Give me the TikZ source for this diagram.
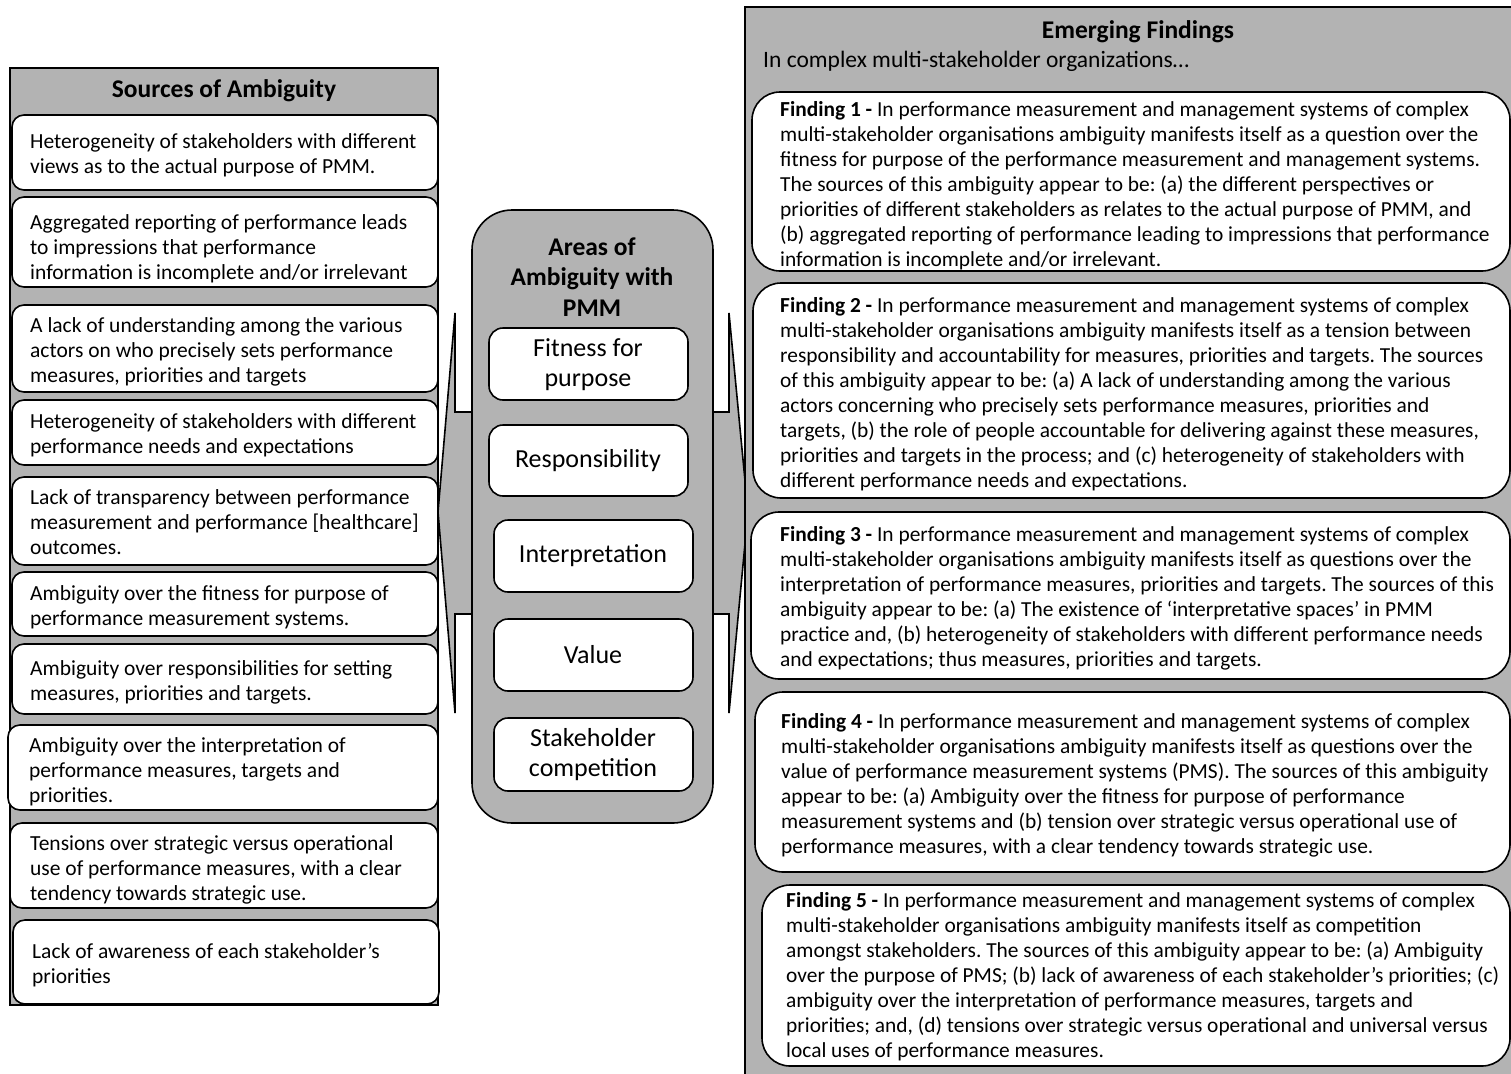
\documentclass[tikz,border=0pt]{standalone}
\usepackage{fontspec}
\setmainfont{Carlito}
\frenchspacing
\definecolor{panelgray}{RGB}{179,179,179}
\newcommand\ml[1]{\begin{tabular}[t]{@{}l@{}}#1\end{tabular}}
\tikzset{
  panel/.style={draw=black, fill=panelgray, line width=1.6pt},
  srcbox/.style={draw=black, fill=white, line width=1.6pt, rounded corners=12pt},
  areabox/.style={draw=black, fill=white, line width=1.6pt, rounded corners=14pt},
  findbox/.style={draw=black, fill=white, line width=1.6pt, rounded corners=28pt},
  srctext/.style={anchor=base west, inner sep=0pt, font=\fontsize{21.5}{25}\selectfont},
  findtext/.style={anchor=base west, inner sep=0pt, font=\fontsize{21.4}{25}\selectfont},
  areatext/.style={inner sep=0pt, align=center, font=\fontsize{26}{30}\selectfont},
  titletext/.style={inner sep=0pt, align=center, font=\bfseries\fontsize{25.5}{30.5}\selectfont},
}
\begin{document}
\begin{tikzpicture}[x=1pt, y=-1pt]
\useasboundingbox (0,0) rectangle (1511,1073);
\fill[white] (0,0) rectangle (1511,1073);

% ---------- left panel ----------
\path[panel] (10,68) rectangle (438,1005);
\node[titletext] (srctitle) at (224,91) {Sources of Ambiguity};
\path[srcbox] (12,115) rectangle (438,190);
\path[srcbox] (12,197) rectangle (438,287);
\path[srcbox] (12,305) rectangle (438,392);
\path[srcbox] (12,400) rectangle (438,465);
\path[srcbox] (12,477) rectangle (438,565);
\path[srcbox] (12,572) rectangle (438,636);
\path[srcbox] (12,644) rectangle (438,714);
\path[srcbox] (8,725) rectangle (438,810);
\path[srcbox] (10,823) rectangle (438,908);
\path[srcbox] (13,920) rectangle (439,1004);
\node[srctext] (s1) at (30,148) {\ml{Heterogeneity of stakeholders with different\\views as to the actual purpose of PMM.}};
\node[srctext] (s2) at (30,229) {\ml{Aggregated reporting of performance leads\\to impressions that performance\\information is incomplete and/or irrelevant}};
\node[srctext] (s3) at (30,332) {\ml{A lack of understanding among the various\\actors on who precisely sets performance\\measures, priorities and targets}};
\node[srctext] (s4) at (30,428) {\ml{Heterogeneity of stakeholders with different\\performance needs and expectations}};
\node[srctext] (s5) at (30,504) {\ml{Lack of transparency between performance\\measurement and performance [healthcare]\\outcomes.}};
\node[srctext] (s6) at (30,600) {\ml{Ambiguity over the fitness for purpose of\\performance measurement systems.}};
\node[srctext] (s7) at (30,675) {\ml{Ambiguity over responsibilities for setting\\measures, priorities and targets.}};
\node[srctext] (s8) at (29,752) {\ml{Ambiguity over the interpretation of\\performance measures, targets and\\priorities.}};
\node[srctext] (s9) at (30,850) {\ml{Tensions over strategic versus operational\\use of performance measures, with a clear\\tendency towards strategic use.}};
\node[srctext] (s10) at (32,958) {\ml{Lack of awareness of each stakeholder’s\\priorities}};

% ---------- double arrow ----------
\path[panel, line join=miter] (438,512) -- (455,313) -- (455,412) -- (729,412) -- (729,313)
  -- (748,512) -- (729,713) -- (729,614) -- (455,614) -- (455,713) -- cycle;

% ---------- middle panel ----------
\path[panel, rounded corners=40pt] (472,210) rectangle (713,823);
\node[titletext] (areatitle) at (592,277) {Areas of\\Ambiguity with\\PMM};
\path[areabox] (489,328) rectangle (688,400);
\path[areabox] (489,425) rectangle (688,496);
\path[areabox] (494,520) rectangle (693,592);
\path[areabox] (494,619) rectangle (693,691);
\path[areabox] (494,718) rectangle (693,791);
\node[areatext] (a1) at (588,365) {Fitness for\\purpose};
\node[areatext] (a2) at (588,461) {Responsibility};
\node[areatext] (a3) at (593,556) {Interpretation};
\node[areatext] (a4) at (593,655) {Value};
\node[areatext] (a5) at (593,755) {Stakeholder\\competition};

% ---------- right panel ----------
\path[panel] (745,7) rectangle (1520,1085);
\node[titletext] (findtitle) at (1138,32) {Emerging Findings};
\node[findtext, font=\fontsize{23.5}{28}\selectfont] (sub) at (763,67) {In complex multi-stakeholder organizations…};
\path[findbox] (752,92) rectangle (1510,271);
\path[findbox] (753,283) rectangle (1510,498);
\path[findbox] (751,512) rectangle (1510,679);
\path[findbox] (755,692) rectangle (1510,872);
\path[findbox] (762,885) rectangle (1510,1066);

\node[findtext] (f1) at (780,116) {\ml{\textbf{Finding 1 -} In performance measurement and management systems of complex\\
multi-stakeholder organisations ambiguity manifests itself as a question over the\\
fitness for purpose of the performance measurement and management systems.\\
The sources of this ambiguity appear to be: (a) the different perspectives or\\
priorities of different stakeholders as relates to the actual purpose of PMM, and\\
(b) aggregated reporting of performance leading to impressions that performance\\
information is incomplete and/or irrelevant.}};

\node[findtext] (f2) at (780,312) {\ml{\textbf{Finding 2 -} In performance measurement and management systems of complex\\
multi-stakeholder organisations ambiguity manifests itself as a tension between\\
responsibility and accountability for measures, priorities and targets. The sources\\
of this ambiguity appear to be: (a) A lack of understanding among the various\\
actors concerning who precisely sets performance measures, priorities and\\
targets, (b) the role of people accountable for delivering against these measures,\\
priorities and targets in the process; and (c) heterogeneity of stakeholders with\\
different performance needs and expectations.}};

\node[findtext] (f3) at (780,541) {\ml{\textbf{Finding 3 -} In performance measurement and management systems of complex\\
multi-stakeholder organisations ambiguity manifests itself as questions over the\\
interpretation of performance measures, priorities and targets. The sources of this\\
ambiguity appear to be: (a) The existence of ‘interpretative spaces’ in PMM\\
practice and, (b) heterogeneity of stakeholders with different performance needs\\
and expectations; thus measures, priorities and targets.}};

\node[findtext] (f4) at (781,728) {\ml{\textbf{Finding 4 -} In performance measurement and management systems of complex\\
multi-stakeholder organisations ambiguity manifests itself as questions over the\\
value of performance measurement systems (PMS). The sources of this ambiguity\\
appear to be: (a) Ambiguity over the fitness for purpose of performance\\
measurement systems and (b) tension over strategic versus operational use of\\
performance measures, with a clear tendency towards strategic use.}};

\node[findtext] (f5) at (786,907) {\ml{\textbf{Finding 5 -} In performance measurement and management systems of complex\\
multi-stakeholder organisations ambiguity manifests itself as competition\\
amongst stakeholders. The sources of this ambiguity appear to be: (a) Ambiguity\\
over the purpose of PMS; (b) lack of awareness of each stakeholder’s priorities; (c)\\
ambiguity over the interpretation of performance measures, targets and\\
priorities; and, (d) tensions over strategic versus operational and universal versus\\
local uses of performance measures.}};
\end{tikzpicture}
\end{document}
